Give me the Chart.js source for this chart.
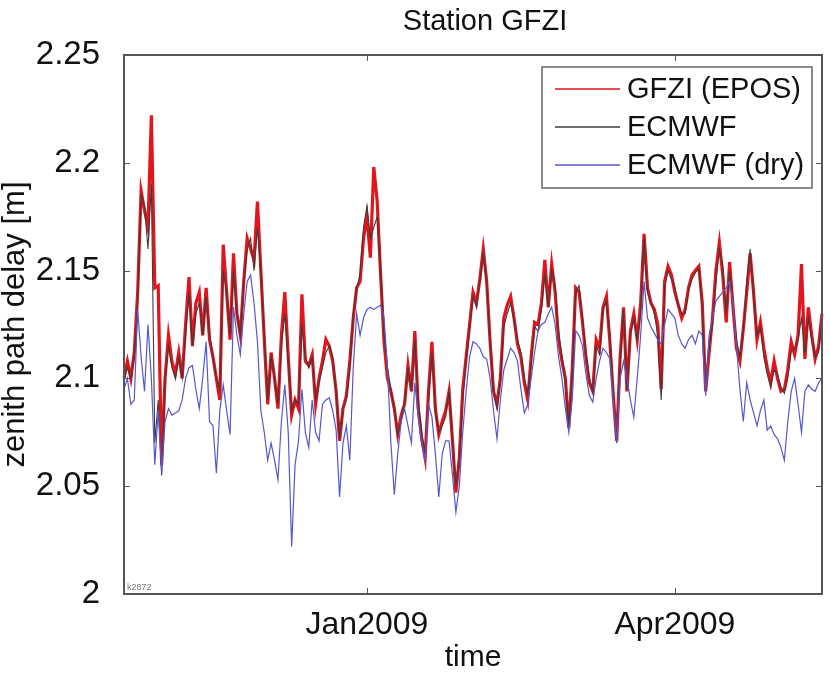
<!DOCTYPE html>
<html>
<head>
<meta charset="utf-8">
<title>Station GFZI</title>
<script src="https://cdn.jsdelivr.net/npm/chart.js@4.4.1/dist/chart.umd.min.js"></script>
<style>
  html, body { margin: 0; padding: 0; background: #fff; }
  #zpd { display: block; }
</style>
</head>
<body>
<canvas id="zpd" width="830" height="675"></canvas>
<script>
// daily samples, first day 2008-10-22
const startDate = "2008-10-22";
const dayCount = 205;

const tickDates = ["2009-01-01", "2009-04-01"];
const tickLabels = ["Jan2009", "Apr2009"];
const yTicks = [2, 2.05, 2.1, 2.15, 2.2, 2.25];

// GPS zenith path delay, GFZI (EPOS)
const gfzi = [
  2.100, 2.108, 2.100, 2.112, 2.140, 2.187, 2.178, 2.170, 2.222, 2.142,
  2.143, 2.060, 2.100, 2.120, 2.108, 2.102, 2.112, 2.100, 2.125, 2.147,
  2.115, 2.135, 2.140, 2.120, 2.142, 2.118, 2.110, 2.100, 2.090, 2.162,
  2.140, 2.118, 2.158, 2.130, 2.120, 2.145, 2.165, 2.160, 2.155, 2.182,
  2.150, 2.118, 2.088, 2.112, 2.100, 2.086, 2.120, 2.140, 2.110, 2.083,
  2.090, 2.086, 2.139, 2.108, 2.106, 2.111, 2.088, 2.100, 2.108, 2.118,
  2.115, 2.108, 2.094, 2.071, 2.086, 2.092, 2.108, 2.128, 2.142, 2.145,
  2.165, 2.175, 2.156, 2.198, 2.182, 2.148, 2.117, 2.100, 2.094, 2.086,
  2.074, 2.083, 2.088, 2.106, 2.094, 2.122, 2.086, 2.072, 2.063, 2.094,
  2.117, 2.086, 2.074, 2.080, 2.085, 2.094, 2.071, 2.047, 2.063, 2.095,
  2.110, 2.125, 2.140, 2.135, 2.146, 2.160, 2.145, 2.117, 2.094, 2.088,
  2.100, 2.128, 2.134, 2.138, 2.128, 2.116, 2.110, 2.098, 2.090, 2.110,
  2.126, 2.125, 2.135, 2.155, 2.133, 2.153, 2.140, 2.118, 2.108, 2.100,
  2.077, 2.104, 2.142, 2.140, 2.126, 2.110, 2.098, 2.094, 2.118, 2.114,
  2.133, 2.138, 2.117, 2.092, 2.071, 2.110, 2.133, 2.094, 2.122, 2.130,
  2.118, 2.135, 2.167, 2.142, 2.135, 2.132, 2.125, 2.095, 2.145, 2.152,
  2.148, 2.140, 2.134, 2.128, 2.132, 2.142, 2.148, 2.150, 2.152, 2.135,
  2.094, 2.112, 2.128, 2.150, 2.163, 2.148, 2.126, 2.154, 2.133, 2.114,
  2.108, 2.123, 2.140, 2.158, 2.140, 2.118, 2.126, 2.114, 2.105, 2.098,
  2.108, 2.100, 2.094, 2.095, 2.104, 2.117, 2.111, 2.120, 2.153, 2.109,
  2.133, 2.120, 2.109, 2.115, 2.130
];

// ECMWF total delay
const ecmwf = [
  2.100, 2.105, 2.100, 2.110, 2.135, 2.185, 2.180, 2.160, 2.190, 2.070,
  2.090, 2.055, 2.100, 2.115, 2.105, 2.100, 2.110, 2.100, 2.120, 2.140,
  2.115, 2.130, 2.135, 2.120, 2.138, 2.120, 2.110, 2.100, 2.095, 2.150,
  2.140, 2.120, 2.150, 2.130, 2.120, 2.145, 2.160, 2.165, 2.150, 2.170,
  2.150, 2.120, 2.090, 2.110, 2.100, 2.088, 2.115, 2.130, 2.108, 2.085,
  2.090, 2.088, 2.125, 2.110, 2.105, 2.110, 2.090, 2.098, 2.105, 2.112,
  2.115, 2.110, 2.094, 2.072, 2.086, 2.090, 2.105, 2.130, 2.142, 2.148,
  2.170, 2.180, 2.165, 2.170, 2.175, 2.150, 2.120, 2.105, 2.095, 2.086,
  2.074, 2.080, 2.090, 2.104, 2.095, 2.118, 2.090, 2.075, 2.065, 2.090,
  2.112, 2.085, 2.075, 2.078, 2.082, 2.094, 2.072, 2.050, 2.063, 2.090,
  2.108, 2.123, 2.138, 2.133, 2.145, 2.158, 2.145, 2.117, 2.094, 2.086,
  2.100, 2.124, 2.130, 2.135, 2.127, 2.118, 2.112, 2.100, 2.093, 2.107,
  2.124, 2.122, 2.132, 2.148, 2.133, 2.150, 2.143, 2.122, 2.110, 2.098,
  2.078, 2.102, 2.140, 2.143, 2.128, 2.112, 2.100, 2.094, 2.115, 2.111,
  2.132, 2.136, 2.118, 2.094, 2.070, 2.108, 2.132, 2.095, 2.120, 2.128,
  2.118, 2.130, 2.165, 2.140, 2.135, 2.130, 2.120, 2.090, 2.142, 2.150,
  2.146, 2.142, 2.134, 2.130, 2.130, 2.141, 2.146, 2.149, 2.151, 2.133,
  2.094, 2.114, 2.125, 2.145, 2.160, 2.152, 2.130, 2.150, 2.135, 2.118,
  2.110, 2.122, 2.145, 2.160, 2.138, 2.120, 2.124, 2.110, 2.102, 2.096,
  2.104, 2.102, 2.096, 2.093, 2.100, 2.113, 2.114, 2.118, 2.128, 2.112,
  2.128, 2.118, 2.110, 2.112, 2.128
];

// ECMWF hydrostatic (dry) part
const ecmwfDry = [
  2.095, 2.100, 2.088, 2.090, 2.132, 2.110, 2.094, 2.125, 2.100, 2.060,
  2.085, 2.056, 2.080, 2.086, 2.083, 2.084, 2.085, 2.090, 2.100, 2.105,
  2.106, 2.095, 2.086, 2.100, 2.117, 2.080, 2.078, 2.056, 2.085, 2.097,
  2.085, 2.074, 2.133, 2.120, 2.111, 2.130, 2.145, 2.148, 2.135, 2.117,
  2.085, 2.075, 2.062, 2.070, 2.062, 2.053, 2.080, 2.097, 2.075, 2.022,
  2.060, 2.071, 2.095, 2.075, 2.068, 2.090, 2.075, 2.071, 2.088, 2.090,
  2.091, 2.085, 2.076, 2.045, 2.070, 2.078, 2.062, 2.105, 2.130, 2.120,
  2.128, 2.132, 2.133, 2.132, 2.133, 2.134, 2.128, 2.105, 2.070, 2.046,
  2.065, 2.080, 2.086, 2.078, 2.070, 2.098, 2.082, 2.070, 2.062, 2.088,
  2.082, 2.065, 2.045, 2.065, 2.071, 2.071, 2.055, 2.038, 2.050, 2.075,
  2.094, 2.110, 2.117, 2.116, 2.114, 2.110, 2.109, 2.100, 2.085, 2.072,
  2.090, 2.104, 2.109, 2.114, 2.112, 2.108, 2.095, 2.084, 2.088, 2.100,
  2.112, 2.122, 2.125, 2.126, 2.130, 2.133, 2.125, 2.110, 2.100, 2.086,
  2.075, 2.090, 2.122, 2.120, 2.115, 2.102, 2.092, 2.089, 2.100, 2.108,
  2.114, 2.112, 2.109, 2.090, 2.070, 2.100, 2.108, 2.100, 2.090, 2.082,
  2.100, 2.120, 2.145, 2.128, 2.124, 2.121, 2.118, 2.116, 2.125, 2.132,
  2.130, 2.128, 2.120, 2.116, 2.114, 2.118, 2.120, 2.116, 2.122, 2.120,
  2.092, 2.120, 2.128, 2.136, 2.138, 2.140, 2.142, 2.145, 2.135, 2.115,
  2.095, 2.080, 2.098, 2.090, 2.084, 2.078, 2.085, 2.090, 2.076, 2.078,
  2.074, 2.072, 2.068, 2.062, 2.080, 2.094, 2.100, 2.088, 2.075, 2.094,
  2.097, 2.095, 2.094, 2.098, 2.100
];

const FONT = '"Liberation Sans", Arial, Helvetica, sans-serif';

// date labels for the category axis
const labels = [];
const d0 = new Date(startDate + "T00:00:00Z");
for (let i = 0; i < dayCount; i++) {
  const d = new Date(d0.getTime() + i * 86400000);
  labels.push(d.toISOString().slice(0, 10));
}

const ctx = document.getElementById("zpd").getContext("2d");

/* title, frame with inward ticks, small id text and the legend box */
const framePlugin = {
  id: "frame",
  afterDatasetsDraw(chart) {
    const c = chart.ctx;
    const a = chart.chartArea;
    const x = chart.scales.x;
    const y = chart.scales.y;
    c.save();

    c.fillStyle = "#111";
    c.font = "29px " + FONT;
    c.textAlign = "center";
    c.textBaseline = "middle";
    c.fillText("Station GFZI", 485, 22);
    c.textAlign = "left";

    c.strokeStyle = "#555";
    c.lineWidth = 2;
    c.strokeRect(a.left, a.top, a.right - a.left, a.bottom - a.top);

    c.lineWidth = 1;
    c.beginPath();
    y.ticks.forEach((t) => {
      const py = Math.round(y.getPixelForValue(t.value)) + 0.5;
      c.moveTo(a.left, py);
      c.lineTo(a.left + 6, py);
      c.moveTo(a.right, py);
      c.lineTo(a.right - 6, py);
    });
    x.ticks.forEach((t) => {
      const px = Math.round(x.getPixelForValue(t.value)) + 0.5;
      c.moveTo(px, a.bottom);
      c.lineTo(px, a.bottom - 6);
      c.moveTo(px, a.top);
      c.lineTo(px, a.top + 6);
    });
    c.stroke();

    c.fillStyle = "#777";
    c.font = "9px " + FONT;
    c.textBaseline = "bottom";
    c.fillText("k2872", a.left + 3, a.bottom - 2);

    // legend
    const lx = 542, ly = 67, lw = 270, lh = 121;
    c.fillStyle = "#fff";
    c.fillRect(lx, ly, lw, lh);
    c.strokeStyle = "#666";
    c.lineWidth = 1.5;
    c.strokeRect(lx, ly, lw, lh);
    const items = chart.data.datasets.slice().reverse();
    items.forEach((ds, k) => {
      const ry = ly + 22 + k * 38;
      c.strokeStyle = ds.borderColor;
      c.lineWidth = 1.5;
      c.beginPath();
      c.moveTo(lx + 13, ry);
      c.lineTo(lx + 78, ry);
      c.stroke();
      c.fillStyle = "#111";
      c.font = "29px " + FONT;
      c.textBaseline = "middle";
      c.fillText(ds.label, lx + 85, ry + 1);
    });
    c.restore();
  },
};

const chart = new Chart(ctx, {
  type: "line",
  data: {
    labels: labels,
    // first dataset is drawn on top
    datasets: [
      {
        label: "ECMWF (dry)",
        data: ecmwfDry,
        borderColor: "#5757cc",
        borderWidth: 1.2,
      },
      {
        label: "ECMWF",
        data: ecmwf,
        borderColor: "#3c3c3c",
        borderWidth: 1.1,
      },
      {
        label: "GFZI (EPOS)",
        data: gfzi,
        borderColor: "#e3141c",
        borderWidth: 3.2,
      },
    ],
  },
  options: {
    responsive: false,
    animation: false,
    devicePixelRatio: 1,
    elements: {
      point: { radius: 0 },
      line: { tension: 0 },
    },
    layout: {
      padding: { left: 0, right: 8, top: 55, bottom: 0 },
    },
    scales: {
      x: {
        type: "category",
        offset: false,
        grid: { display: false },
        border: { display: false },
        afterBuildTicks: (scale) => {
          scale.ticks = scale.ticks.filter((t) => tickDates.includes(labels[t.value]));
        },
        afterFit: (scale) => {
          scale.height = 81;
        },
        ticks: {
          autoSkip: false,
          maxRotation: 0,
          padding: 4,
          color: "#111",
          font: { family: FONT, size: 32 },
          callback: (v) => tickLabels[tickDates.indexOf(labels[v])],
        },
        title: {
          display: true,
          text: "time",
          color: "#111",
          font: { family: FONT, size: 30, lineHeight: 1 },
          padding: { top: 0, bottom: 2 },
        },
      },
      y: {
        min: 2,
        max: 2.25,
        grid: { display: false },
        border: { display: false },
        afterBuildTicks: (scale) => {
          scale.ticks = yTicks.map((v) => ({ value: v }));
        },
        afterFit: (scale) => {
          scale.width = 124;
        },
        ticks: {
          padding: 16,
          color: "#111",
          font: { family: FONT, size: 33 },
          callback: (v) => String(+v.toFixed(2)),
        },
        title: {
          display: true,
          text: "zenith path delay [m]",
          color: "#111",
          font: { family: FONT, size: 31, lineHeight: 1 },
          padding: { top: 0, bottom: 0 },
        },
      },
    },
    plugins: {
      legend: { display: false },
      tooltip: { enabled: false },
      title: { display: false },
    },
  },
  plugins: [framePlugin],
});
</script>
</body>
</html>
